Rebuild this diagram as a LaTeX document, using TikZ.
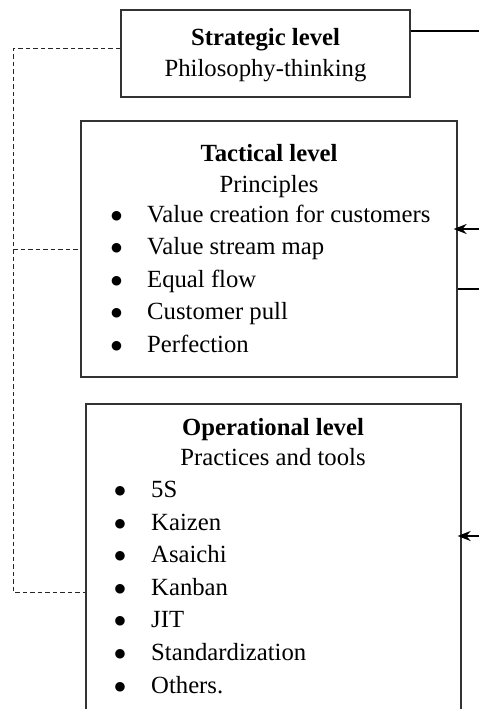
\documentclass[tikz,border=0pt]{standalone}
\usepackage{fontspec}
\setmainfont{Liberation Serif}
\newfontfamily\bulletfont{DejaVu Sans}
\usetikzlibrary{arrows.meta}
\begin{document}
\begin{tikzpicture}[x=1pt,y=-1pt,
  levelbox/.style={draw=black!80,line width=1.3pt,inner sep=0pt},
  txt/.style={anchor=base,inner sep=0pt,font=\fontsize{24.7}{30}\selectfont},
  item/.style={anchor=base west,inner sep=0pt,font=\fontsize{24.7}{30}\selectfont},
  dot/.style={anchor=center,inner sep=0pt,font=\fontsize{12.5}{13}\bulletfont},
  link/.style={black,line width=2pt},
  feed/.style={black,line width=2pt,shorten >=-4pt,-{Stealth[length=13pt,width=10pt]}},
  dashlink/.style={black!85,line width=1pt,dash pattern=on 4.5pt off 3pt}]
\useasboundingbox (0,0) rectangle (479,709);

% boxes
\node[levelbox,minimum width=289,minimum height=87] (strat) at (265.5,53.5) {};
\node[levelbox,minimum width=376,minimum height=256] (tact) at (269,249) {};
\node[levelbox,minimum width=375,minimum height=330] (oper) at (273.5,569) {};

% strategic level
\node[txt] (s1) at (265.5,46) {\bfseries Strategic level};
\node[txt] (s2) at (265.5,76) {Philosophy-thinking};

% tactical level
\node[txt] (t1) at (269,161) {\bfseries Tactical level};
\node[txt] (t2) at (269,192) {Principles};
\foreach \y/\t [count=\i] in {222/Value creation for customers,254.5/Value stream map,287/Equal flow,319.5/Customer pull,352/Perfection}{
  \node[dot] (tb\i) at (116.7,\y-6) {●};
  \node[item] (ti\i) at (147,\y) {\t};
}

% operational level
\node[txt] (o1) at (273,435) {\bfseries Operational level};
\node[txt] (o2) at (273,465) {Practices and tools};
\foreach \y/\t [count=\i] in {497/5S,530/Kaizen,562/Asaichi,595/Kanban,627/JIT,660/Standardization,693/Others.}{
  \node[dot] (ob\i) at (120,\y-6) {●};
  \node[item] (oi\i) at (151,\y) {\t};
}

% connectors on the right side
\coordinate (r1) at (479,31);
\coordinate (r2) at (479,229);
\coordinate (r3) at (479,289);
\coordinate (r4) at (479,536);
\draw[link] (r1 -| strat.east) -- (r1);
\draw[feed] (r2) -- (r2 -| tact.east);
\draw[link] (r3 -| tact.east) -- (r3);
\draw[feed] (r4) -- (r4 -| oper.east);

% dashed bracket on the left side
\coordinate (d1) at (13,49);
\coordinate (d2) at (13,249);
\coordinate (d3) at (13,592);
\draw[dashlink] (d1 -| strat.west) -- (d1) -- (d3) -- (d3 -| oper.west);
\draw[dashlink] (d2) -- (d2 -| tact.west);
\end{tikzpicture}
\end{document}
